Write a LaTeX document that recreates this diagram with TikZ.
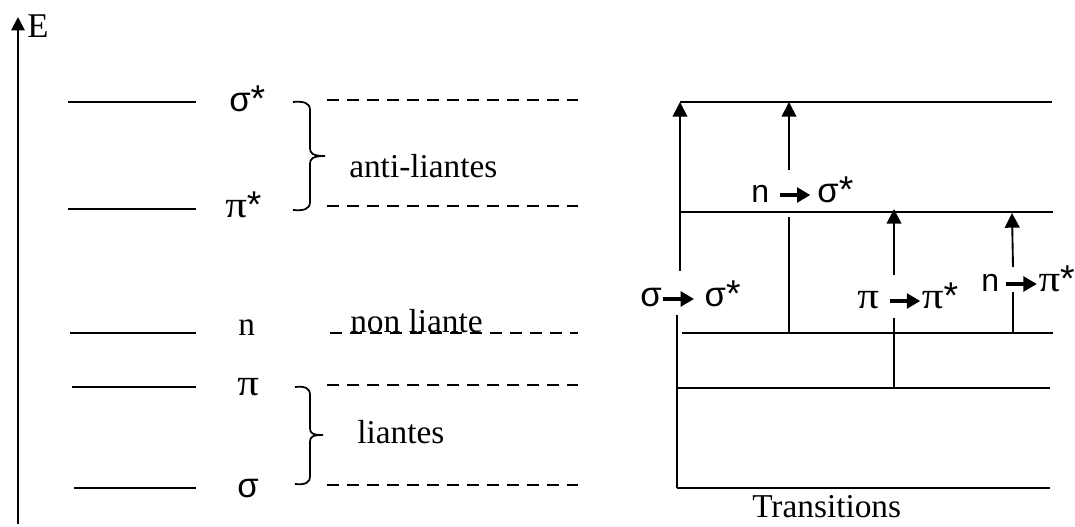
\documentclass[tikz,border=0pt]{standalone}
\usepackage{fontspec}
\setmainfont{Liberation Serif}
\newfontfamily\lsans{Liberation Sans}
\newfontfamily\pifont{Liberation Serif}[FakeStretch=1.15]
\usetikzlibrary{arrows.meta}
% Greek letters: sigma in the sans face, pi in a slightly widened serif face
\newcommand{\sg}{{\lsans\fontsize{26}{30}\selectfont σ}}
\newcommand{\pii}{{\pifont\fontsize{28}{30}\selectfont π}}
\newcommand{\st}{{\lsans\fontsize{28}{30}\selectfont *}}
% short bold arrow used inside the transition labels
\newcommand{\trarr}{\tikz[baseline=0pt,x=1pt,y=1pt]\draw[line width=2.6pt,-{Triangle[length=10pt,width=11pt]}] (0,6) -- (23,6);}

\begin{document}
\begin{tikzpicture}[x=0.75pt,y=-0.75pt,
  level/.style={line width=1.4pt},
  dashlevel/.style={line width=1.2pt,dash pattern=on 9pt off 6pt},
  trans/.style={line width=1.4pt,-{Triangle[length=11pt,width=11pt]}},
  bracestyle/.style={line width=1.3pt},
  serif/.style={font=\fontsize{25}{28}\selectfont, inner sep=0pt},
  lab/.style={font=\lsans\fontsize{24}{28}\selectfont, inner sep=0pt}]
\useasboundingbox (0,0) rectangle (1075,527);

% energy axis
\coordinate (axB) at (18,524);
\coordinate (axT) at (18,17);
\draw[line width=1.4pt,-{Triangle[length=10pt,width=10pt]}] (axB) -- (axT);
\node[font=\fontsize{26}{28}\selectfont,inner sep=0pt,anchor=base west] (E) at (27,38) {E};

% left column: orbital levels
\coordinate (ss1) at (68,102);  \coordinate (ss2) at (196,102);
\coordinate (ps1) at (68,209);  \coordinate (ps2) at (196,209);
\coordinate (n1)  at (70,333);  \coordinate (n2)  at (196,333);
\coordinate (p1)  at (72,387);  \coordinate (p2)  at (196,387);
\coordinate (s1)  at (74,488);  \coordinate (s2)  at (196,488);
\draw[level] (ss1) -- (ss2);
\draw[level] (ps1) -- (ps2);
\draw[level] (n1) -- (n2);
\draw[level] (p1) -- (p2);
\draw[level] (s1) -- (s2);

\node[inner sep=0pt,anchor=base west] (Lss) at (229,112) {\sg\st};
\node[inner sep=0pt,anchor=base west] (Lps) at (225,218) {\pii\st};
\node[serif,anchor=base west] (Ln) at (238,335) {n};
\node[inner sep=0pt,anchor=base west] (Lp) at (237,396) {\pii};
\node[inner sep=0pt,anchor=base west] (Ls) at (237,497) {\sg};

% braces
\draw[bracestyle] (293,102) .. controls (304,101) and (310,103) .. (310,110)
  -- (310,148) .. controls (310,153) and (312,156) .. (325,156)
  .. controls (312,156) and (310,159) .. (310,164)
  -- (310,202) .. controls (310,209) and (304,211) .. (293,210);
\draw[bracestyle] (295,387) .. controls (305,386) and (310,388) .. (310,395)
  -- (310,428) .. controls (310,433) and (312,435) .. (323,435)
  .. controls (312,435) and (310,437) .. (310,442)
  -- (310,476) .. controls (310,483) and (305,485) .. (295,484);

% dashed guide lines
\coordinate (d1a) at (327,100); \coordinate (d1b) at (578,100);
\coordinate (d2a) at (327,206); \coordinate (d2b) at (578,206);
\coordinate (d3a) at (330,333); \coordinate (d3b) at (578,333);
\coordinate (d4a) at (327,385); \coordinate (d4b) at (578,385);
\coordinate (d5a) at (327,485); \coordinate (d5b) at (578,485);
\draw[dashlevel] (d1a) -- (d1b);
\draw[dashlevel] (d2a) -- (d2b);
\draw[dashlevel] (d3a) -- (d3b);
\draw[dashlevel] (d4a) -- (d4b);
\draw[dashlevel] (d5a) -- (d5b);

\node[serif,anchor=base west] (anti) at (349,178) {anti-liantes};
\node[serif,anchor=base west] (non) at (350,333) {non liante};
\node[serif,anchor=base west] (lia) at (357,443) {liantes};

% right column: levels
\coordinate (R1a) at (680,102); \coordinate (R1b) at (1052,102);
\coordinate (R2a) at (680,212); \coordinate (R2b) at (1053,212);
\coordinate (R3a) at (682,333); \coordinate (R3b) at (1053,333);
\coordinate (R4a) at (677,388); \coordinate (R4b) at (1050,388);
\coordinate (R5a) at (677,488); \coordinate (R5b) at (1050,488);
\draw[level] (R1a) -- (R1b);
\draw[level] (R2a) -- (R2b);
\draw[level] (R3a) -- (R3b);
\draw[level] (R4a) -- (R4b);
\draw[level] (R5a) -- (R5b);

% transitions
\coordinate (t1a) at (677,488); \coordinate (t1b) at (677,315);
\coordinate (t1c) at (680,271); \coordinate (t1d) at (680,102);
\draw[level] (t1a) -- (t1b);
\draw[trans] (t1c) -- (t1d);

\coordinate (t2a) at (789,333); \coordinate (t2b) at (789,217);
\coordinate (t2c) at (789,170); \coordinate (t2d) at (789,102);
\draw[level] (t2a) -- (t2b);
\draw[trans] (t2c) -- (t2d);

\coordinate (t3a) at (894,388); \coordinate (t3b) at (894,318);
\coordinate (t3c) at (894,275); \coordinate (t3d) at (894,209);
\draw[level] (t3a) -- (t3b);
\draw[trans] (t3c) -- (t3d);

\coordinate (t4a) at (1013,333); \coordinate (t4b) at (1013,292);
\coordinate (t4c) at (1013,267); \coordinate (t4d) at (1012,213);
\draw[level] (t4a) -- (t4b);
\draw[trans] (t4c) -- (t4d);

\node[lab,anchor=base west] (L1) at (640,307) {\sg\trarr\ \sg\st};
\node[lab,anchor=base west] (L2) at (751,203) {n \trarr\,\sg\st};
\node[lab,anchor=base west] (L3) at (857,309) {\pii\ \trarr\pii\st};
\node[lab,anchor=base west] (L4) at (981,292) {n\,\trarr\pii\st};

\node[serif,anchor=base west] (tr) at (752,517) {Transitions};
\end{tikzpicture}
\end{document}
